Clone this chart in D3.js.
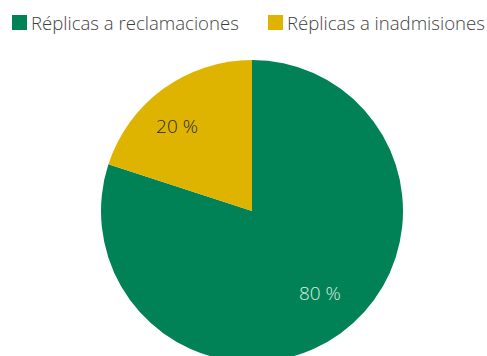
<!DOCTYPE html>
<html>
<head>
<meta charset="utf-8">
<script src="https://cdn.jsdelivr.net/npm/d3@7"></script>
<style>
  html, body { margin: 0; padding: 0; background: #fff; }
  svg { display: block; }
  text { font-family: "Open Sans", "Noto Sans", sans-serif; }
</style>
</head>
<body>
<svg id="chart" width="487" height="356"></svg>
<script>
// Share of replies by type (percent)
const categories = ["Réplicas a reclamaciones", "Réplicas a inadmisiones"];
const values = [80, 20];
const valueLabels = ["80 %", "20 %"];
const colors = ["#008256", "#dfb400"];
const labelColors = ["#dcebe2", "#2b2b1f"];

const W = 487, H = 356;
const cx = 252, cy = 211, radius = 151;

const svg = d3.select("#chart");

const pie = d3.pie().sort(null).value(d => d.value);
const data = pie(categories.map((c, i) => ({ name: c, value: values[i], label: valueLabels[i], i })));

const arc = d3.arc().innerRadius(0).outerRadius(radius);
const labelArc = d3.arc().innerRadius(radius * 0.72).outerRadius(radius * 0.72);

const g = svg.append("g").attr("transform", `translate(${cx},${cy})`);

g.selectAll("path.slice")
  .data(data)
  .enter().append("path")
  .attr("class", "slice")
  .attr("d", arc)
  .attr("fill", d => colors[d.data.i]);

// value labels, nudged toward where they sit inside each slice (same order as categories)
const nudges = [[4, -6], [-11, 3]];
g.selectAll("text.val")
  .data(data)
  .enter().append("text")
  .attr("class", "val")
  .attr("transform", d => {
    const [x, y] = labelArc.centroid(d);
    const [nx, ny] = nudges[d.data.i];
    return `translate(${x + nx},${y + ny})`;
  })
  .attr("text-anchor", "middle")
  .attr("dy", "0.35em")
  .attr("font-size", 19)
  .attr("font-weight", 300)
  .attr("fill", d => labelColors[d.data.i])
  .text(d => d.data.label);

// legend
const legendX = [12, 268];
const legendTextWidth = [208, 198];
const legend = svg.append("g");
const items = legend.selectAll("g.item")
  .data(categories)
  .enter().append("g")
  .attr("class", "item")
  .attr("transform", (d, i) => `translate(${legendX[i]},15)`);

items.append("rect")
  .attr("width", 15).attr("height", 15)
  .attr("fill", (d, i) => colors[i]);

items.append("text")
  .attr("x", 19).attr("y", 15)
  .attr("font-size", 19.5)
  .attr("font-weight", 300)
  .attr("fill", "#3f3f3f")
  .text(d => d)
  .each(function (d, i) {
    // fit the label to its slot in the legend row
    const w = this.getComputedTextLength();
    const size = 19.5 * legendTextWidth[i] / w;
    d3.select(this).attr("font-size", size.toFixed(2));
  });
</script>
</body>
</html>
